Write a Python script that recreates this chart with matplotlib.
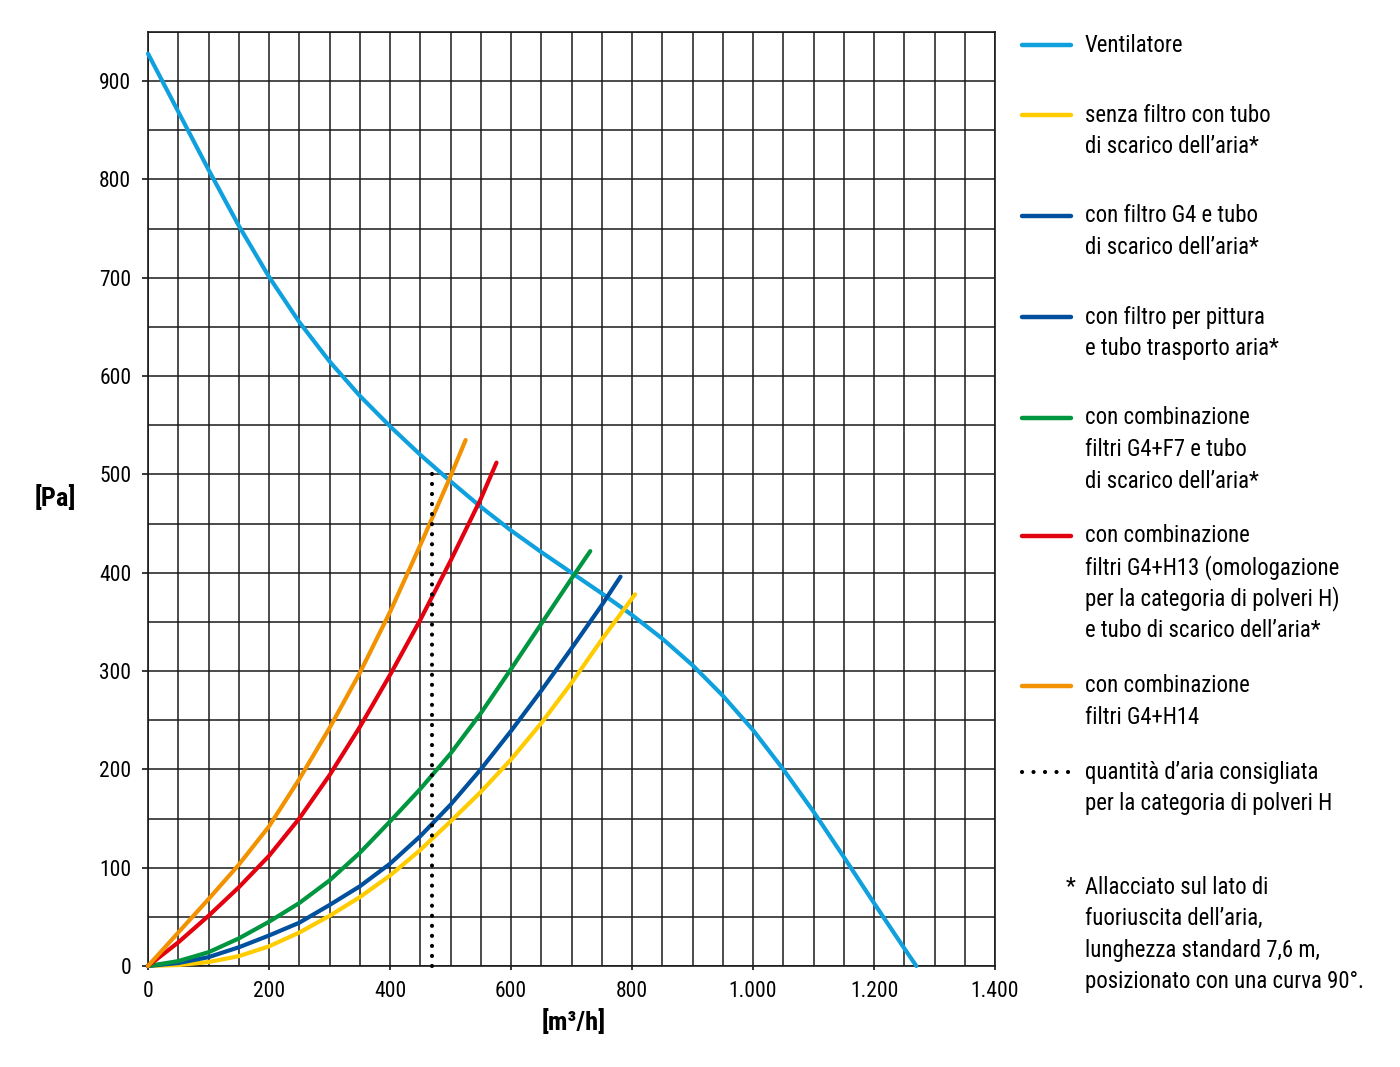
import matplotlib
matplotlib.use('Agg')
import matplotlib.pyplot as plt
import matplotlib.font_manager as fm
from matplotlib.lines import Line2D
from matplotlib.ticker import FuncFormatter, MultipleLocator, FixedLocator

# ---------------- font choice (condensed if available) ----------------
cands = {}
for f in fm.fontManager.ttflist:
    cands.setdefault(f.name, []).append(f)
pref = ['Liberation Sans Narrow', 'Arial Narrow', 'Roboto Condensed', 'Open Sans Condensed',
        'Noto Sans Condensed', 'Noto Sans SemiCondensed', 'DejaVu Sans Condensed']
FONT, STRETCH = None, 'normal'
for p in pref:
    if p in cands:
        FONT = p
        break
if FONT is None:
    for n in sorted(cands):
        if ('Condensed' in n or 'Narrow' in n) and not any(k in n for k in ('Mono', 'Serif', 'CJK')):
            FONT = n
            break
if FONT is None:
    for fam in ['Roboto', 'Noto Sans', 'Open Sans', 'DejaVu Sans']:
        if any(str(f.stretch) in ('condensed', 'semi-condensed', 'extra-condensed')
               for f in cands.get(fam, [])):
            FONT, STRETCH = fam, 'condensed'
            break
if FONT is None:
    FONT = 'DejaVu Sans'
plt.rcParams['font.family'] = [FONT, 'DejaVu Sans']
plt.rcParams['font.stretch'] = STRETCH

# ---------------- data ----------------
vent_q = [0, 50, 100, 150, 200, 250, 300, 350, 400, 450, 500, 550, 600, 650, 700,
          750, 800, 850, 900, 950, 1000, 1050, 1100, 1150, 1200, 1250, 1270]
vent_p = [928, 869, 810, 753, 701, 655, 615, 580, 549, 520, 493, 467, 443, 421, 400,
          379, 357, 333, 306, 275, 240, 200, 157, 111, 64, 18, 0]

yellow_q = [0, 50, 100, 150, 200, 250, 300, 350, 400, 450, 500, 550, 600, 650, 700, 750, 805]
yellow_p = [0, 1, 4, 10, 20, 34, 51, 70, 92, 118, 147, 177, 210, 247, 288, 332, 378]

g4_q = [0, 50, 100, 150, 200, 250, 300, 350, 400, 450, 500, 550, 600, 650, 700, 750, 781]
g4_p = [0, 3, 9, 19, 31, 44, 62, 81, 104, 132, 164, 200, 239, 280, 323, 367, 396]

green_q = [0, 50, 100, 150, 200, 250, 300, 350, 400, 450, 500, 550, 600, 650, 700, 731]
green_p = [0, 5, 14, 28, 45, 64, 87, 115, 147, 180, 216, 257, 302, 348, 394, 422]

red_q = [0, 50, 100, 150, 200, 250, 300, 350, 400, 450, 500, 550, 576]
red_p = [0, 24, 51, 80, 112, 150, 194, 243, 296, 352, 412, 475, 512]

orange_q = [0, 50, 100, 150, 200, 250, 300, 350, 400, 450, 500, 525]
orange_p = [0, 34, 68, 103, 142, 190, 242, 298, 360, 428, 498, 535]

recommended_q = [470, 470]
recommended_p = [0, 505]

x_ticks = [0, 200, 400, 600, 800, 1000, 1200, 1400]
y_ticks = [0, 100, 200, 300, 400, 500, 600, 700, 800, 900]

legend_entries = [
    ("Ventilatore", ["Ventilatore"]),
    ("yellow", ["senza filtro con tubo", "di scarico dell\u2019aria*"]),
    ("g4", ["con filtro G4 e tubo", "di scarico dell\u2019aria*"]),
    ("paint", ["con filtro per pittura", "e tubo trasporto aria*"]),
    ("green", ["con combinazione", "filtri G4+F7 e tubo", "di scarico dell\u2019aria*"]),
    ("red", ["con combinazione", "filtri G4+H13 (omologazione",
             "per la categoria di polveri H)", "e tubo di scarico dell\u2019aria*"]),
    ("orange", ["con combinazione", "filtri G4+H14"]),
    ("dots", ["quantit\u00e0 d\u2019aria consigliata", "per la categoria di polveri H"]),
]
footnote = ["Allacciato sul lato di", "fuoriuscita dell\u2019aria,",
            "lunghezza standard 7,6 m,", "posizionato con una curva 90\u00b0."]

# ---------------- style ----------------
C_VENT = '#0fa0de'
C_YEL = '#ffcc00'
C_BLUE = '#00509e'
C_GREEN = '#00963f'
C_RED = '#e3000f'
C_ORANGE = '#f39200'
colors = {"Ventilatore": C_VENT, "yellow": C_YEL, "g4": C_BLUE, "paint": C_BLUE,
          "green": C_GREEN, "red": C_RED, "orange": C_ORANGE}

W, H = 1400, 1067
fig = plt.figure(figsize=(W / 100, H / 100), dpi=100)
renderer = fig.canvas.get_renderer()

def fx(px):
    return px / W

def fy(py):
    return 1 - py / H

# legend font size: fit the longest footnote line to its width in the reference (~277 px)
probe = fig.text(0, 0, footnote[3], fontsize=16.5)
wpx = probe.get_window_extent(renderer).width
probe.remove()
LFS = min(16.5, 16.5 * 277.0 / wpx)
# tick font size: fit "1.000" to ~50 px
probe = fig.text(0, 0, "1.000", fontsize=15)
wpx = probe.get_window_extent(renderer).width
probe.remove()
TFS = min(15.5, 15 * 50.0 / wpx)

ax = fig.add_axes([fx(148), fy(966), fx(995) - fx(148), fy(32) - fy(966)])
ax.set_xlim(0, 1400)
ax.set_ylim(0, 950)

ax.xaxis.set_minor_locator(MultipleLocator(50))
ax.yaxis.set_minor_locator(MultipleLocator(50))
ax.xaxis.set_major_locator(FixedLocator(x_ticks))
ax.yaxis.set_major_locator(FixedLocator(y_ticks))
ax.grid(True, which='both', color='#1a1a1a', linewidth=1.1)
ax.set_axisbelow(True)
for s in ax.spines.values():
    s.set_color('#1a1a1a')
    s.set_linewidth(1.2)

ax.xaxis.set_major_formatter(FuncFormatter(lambda v, p: f"{int(v):,}".replace(',', '.')))
ax.tick_params(axis='both', which='minor', length=0)
ax.tick_params(axis='y', which='major', length=4, width=1.1, pad=8, labelsize=TFS)
ax.tick_params(axis='x', which='major', length=3, width=1.1, pad=8, labelsize=TFS)

LW = 3.0
kw = dict(linewidth=LW, solid_capstyle='round', solid_joinstyle='round', clip_on=False, zorder=3)
ax.plot(vent_q, vent_p, color=C_VENT, **kw)
ax.plot(yellow_q, yellow_p, color=C_YEL, **kw)
ax.plot(g4_q, g4_p, color=C_BLUE, **kw)
ax.plot(green_q, green_p, color=C_GREEN, **kw)
ax.plot(red_q, red_p, color=C_RED, **kw)
ax.plot(orange_q, orange_p, color=C_ORANGE, **kw)
ax.plot(recommended_q, recommended_p, color='black', linewidth=3.0,
        linestyle=(0, (0.01, 2.4)), dash_capstyle='round', clip_on=False, zorder=4)

fig.text(fx(574), fy(1022), "[m\u00b3/h]", ha='center', va='center',
         fontsize=19, fontweight='bold')
fig.text(fx(55), fy(498), "[Pa]", ha='center', va='center',
         fontsize=19, fontweight='bold')

# ---------------- legend ----------------
first_y = [45, 115, 216, 317, 418, 536, 686, 772]
step = 31.5
for (key, lines), y0 in zip(legend_entries, first_y):
    if key == "dots":
        fig.add_artist(Line2D([fx(1022), fx(1071)], [fy(y0), fy(y0)], color='black',
                              linewidth=3.0, linestyle=(0, (0.01, 2.75)),
                              dash_capstyle='round'))
    else:
        fig.add_artist(Line2D([fx(1022), fx(1071)], [fy(y0), fy(y0)], color=colors[key],
                              linewidth=3.2, solid_capstyle='round'))
    for i, t in enumerate(lines):
        fig.text(fx(1085), fy(y0 + i * step), t, ha='left', va='center', fontsize=LFS)

fig.text(fx(1071), fy(887), "*", ha='center', va='center', fontsize=LFS)
for i, t in enumerate(footnote):
    fig.text(fx(1085), fy(887 + i * step), t, ha='left', va='center', fontsize=LFS)

fig.savefig('out.png', dpi=100, facecolor='white')
